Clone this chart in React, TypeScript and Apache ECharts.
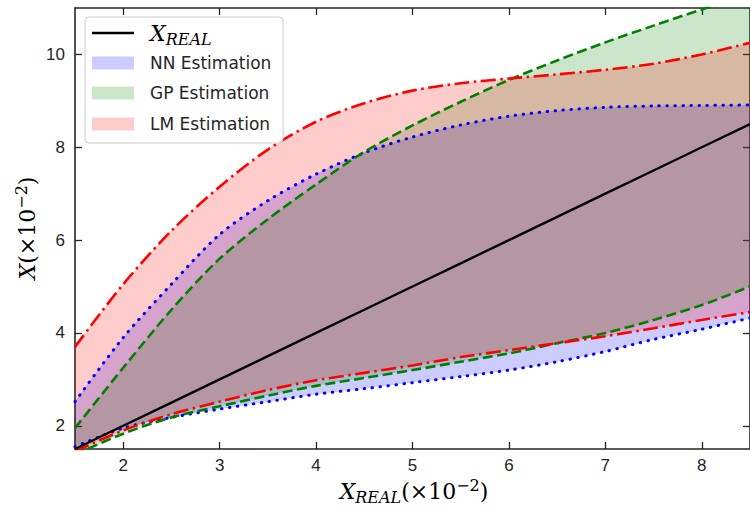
import React, { useEffect, useRef } from "react";
import * as echarts from "echarts";

// ---- data (units of 10^-2) ----
const xValues = [1.5, 2, 2.5, 3, 3.5, 4, 4.5, 5, 5.5, 6, 6.5, 7, 7.5, 8, 8.5];
const realY = [1.5, 2, 2.5, 3, 3.5, 4, 4.5, 5, 5.5, 6, 6.5, 7, 7.5, 8, 8.5];
const nnUpper = [2.52, 3.9, 5.05, 6.12, 6.85, 7.42, 7.88, 8.22, 8.48, 8.67, 8.79, 8.86, 8.89, 8.9, 8.91];
const nnLower = [1.55, 1.95, 2.18, 2.36, 2.52, 2.68, 2.8, 2.93, 3.06, 3.2, 3.38, 3.6, 3.86, 4.08, 4.32];
const gpUpper = [1.95, 3.25, 4.5, 5.6, 6.45, 7.2, 7.9, 8.47, 8.98, 9.45, 9.87, 10.26, 10.62, 10.97, 11.3];
const gpLower = [1.38, 1.83, 2.18, 2.42, 2.65, 2.86, 3.03, 3.2, 3.38, 3.56, 3.78, 4.0, 4.28, 4.6, 5.0];
const lmUpper = [3.7, 5.05, 6.2, 7.15, 7.95, 8.55, 8.95, 9.22, 9.38, 9.48, 9.57, 9.67, 9.8, 10.0, 10.25];
const lmLower = [1.45, 1.9, 2.25, 2.52, 2.77, 2.98, 3.14, 3.3, 3.48, 3.63, 3.78, 3.93, 4.1, 4.28, 4.45];
const yTicks = [2, 4, 6, 8, 10];
const legendLabels = ["NN Estimation", "GP Estimation", "LM Estimation"];

const Y_MIN = 1.5, Y_MAX = 11;
const AXIS_COLOR = "#262626";
const TICK_FONT = "Liberation Sans";
const SMOOTH = 0.3;

const isIntegerTick = (_i: number, v: string) => Number(v) % 1 === 0;

function band(lower: number[], upper: number[], color: string, stack: string) {
  return [
    {
      type: "line", stack, data: lower, symbol: "none", smooth: SMOOTH,
      lineStyle: { width: 0, opacity: 0 }, z: 1, silent: true,
    },
    {
      type: "line", stack, data: upper.map((u, i) => +(u - lower[i]).toFixed(4)), symbol: "none", smooth: SMOOTH,
      lineStyle: { width: 0, opacity: 0 }, areaStyle: { color, opacity: 1 }, z: 1, silent: true,
    },
  ];
}

function curve(ys: number[], color: string, width: number, type: any, cap: string) {
  return {
    type: "line", data: ys, symbol: "none", smooth: SMOOTH, z: 3, silent: true,
    lineStyle: { color, width, type, cap },
  };
}

const axisLineStyle = { show: true, onZero: false, lineStyle: { color: AXIS_COLOR, width: 1.6 } };
const tickLine = { color: AXIS_COLOR, width: 1.3 };

const mathRich = {
  i: { fontFamily: "DejaVu Serif", fontStyle: "italic", fontSize: 22, lineHeight: 28, color: "#262626" },
  s: { fontFamily: "DejaVu Serif", fontStyle: "italic", fontSize: 16, lineHeight: 17, verticalAlign: "bottom", color: "#262626" },
  n: { fontFamily: "DejaVu Serif", fontSize: 22, lineHeight: 28, color: "#262626" },
  p: { fontFamily: "DejaVu Serif", fontSize: 16, lineHeight: 17, verticalAlign: "top", color: "#262626" },
};

export default function App() {
  const ref = useRef<HTMLDivElement>(null);
  useEffect(() => {
    if (!ref.current) return;
    const chart = echarts.init(ref.current, null, { renderer: "svg" });
    const legendFills = ["rgba(0,0,255,0.2)", "rgba(0,128,0,0.2)", "rgba(255,0,0,0.2)"];
    const legendY = [63, 93, 124];
    const cats = xValues.map(String);
    chart.setOption({
      animation: false,
      backgroundColor: "#ffffff",
      grid: { left: 75, top: 8, right: -4, bottom: 60 },
      xAxis: [
        {
          type: "category", data: cats, boundaryGap: false, position: "bottom",
          axisLine: axisLineStyle,
          axisTick: { show: true, inside: true, length: 7, interval: isIntegerTick, lineStyle: tickLine },
          axisLabel: { interval: isIntegerTick, fontFamily: TICK_FONT, fontSize: 17, color: "#262626", margin: 8 },
          splitLine: { show: false },
        },
        {
          type: "category", data: cats, boundaryGap: false, position: "top",
          axisLine: axisLineStyle,
          axisTick: { show: true, inside: true, length: 7, interval: isIntegerTick, lineStyle: tickLine },
          axisLabel: { show: false },
          splitLine: { show: false },
        },
      ],
      yAxis: [
        {
          type: "value", min: Y_MIN, max: Y_MAX, position: "left",
          axisLine: axisLineStyle,
          axisTick: { show: true, inside: true, length: 7, customValues: yTicks, lineStyle: tickLine },
          axisLabel: { customValues: yTicks, fontFamily: TICK_FONT, fontSize: 17, color: "#262626", margin: 10 },
          splitLine: { show: false },
        },
        {
          type: "value", min: Y_MIN, max: Y_MAX, position: "right",
          axisLine: axisLineStyle,
          axisTick: { show: true, inside: true, length: 7, customValues: yTicks, lineStyle: tickLine },
          axisLabel: { show: false },
          splitLine: { show: false },
        },
      ],
      series: [
        ...band(nnLower, nnUpper, "rgba(0,0,255,0.2)", "nn"),
        ...band(gpLower, gpUpper, "rgba(0,128,0,0.2)", "gp"),
        ...band(lmLower, lmUpper, "rgba(255,0,0,0.2)", "lm"),
        {
          type: "line", data: realY, symbol: "none", z: 4, silent: true,
          lineStyle: { color: "#000000", width: 2.4 },
        },
        curve(nnUpper, "#0000ff", 3, [0.5, 7.5], "round"),
        curve(nnLower, "#0000ff", 3, [0.5, 7.5], "round"),
        curve(gpUpper, "#008000", 2.6, [10, 4.5], "butt"),
        curve(gpLower, "#008000", 2.6, [10, 4.5], "butt"),
        curve(lmUpper, "#ff0000", 2.6, [15, 4.5, 2.5, 4.5], "butt"),
        curve(lmLower, "#ff0000", 2.6, [15, 4.5, 2.5, 4.5], "butt"),
      ],
      graphic: [
        {
          type: "rect", z: 100, shape: { x: 85, y: 17, width: 198, height: 126, r: 4 },
          style: { fill: "rgba(255,255,255,0.85)", stroke: "#cccccc", lineWidth: 1 },
        },
        {
          type: "line", z: 101, shape: { x1: 92, y1: 33, x2: 134, y2: 33 },
          style: { stroke: "#000000", lineWidth: 2.4 },
        },
        {
          type: "text", z: 101, x: 150, y: 33,
          style: { text: "{i|X}{s|REAL}", rich: mathRich, align: "left", verticalAlign: "middle" },
        },
        ...legendLabels.flatMap((label, k) => [
          {
            type: "rect", z: 101, shape: { x: 92, y: legendY[k] - 6.5, width: 42, height: 13 },
            style: { fill: legendFills[k] },
          },
          {
            type: "text", z: 101, x: 150, y: legendY[k],
            style: {
              text: label, fontFamily: "DejaVu Sans", fontSize: 17, fill: "#262626",
              align: "left", verticalAlign: "middle",
            },
          },
        ]),
        {
          type: "text", z: 101, x: 414, y: 491,
          style: {
            text: "{i|X}{s|REAL}{n|(×10}{p|−2}{n|)}", rich: mathRich,
            align: "center", verticalAlign: "middle",
          },
        },
        {
          type: "text", z: 101, x: 27, y: 228, rotation: Math.PI / 2,
          style: {
            text: "{i|X}{n|(×10}{p|−2}{n|)}", rich: mathRich,
            align: "center", verticalAlign: "middle",
          },
        },
      ],
    });
    return () => chart.dispose();
  }, []);
  return (
    <div
      ref={ref}
      style={{ position: "fixed", left: 0, top: 0, width: 750, height: 509, overflow: "hidden" }}
    />
  );
}
